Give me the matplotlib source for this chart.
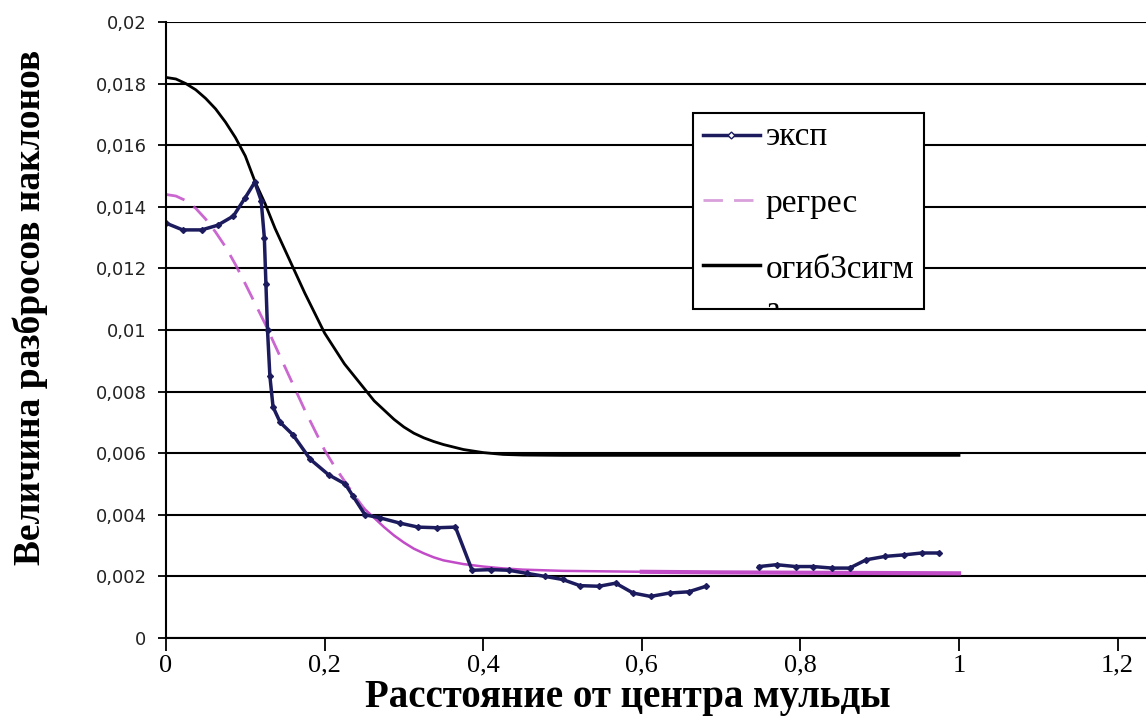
import numpy as np
import matplotlib
matplotlib.use('Agg')
import matplotlib.pyplot as plt
from matplotlib.patches import Rectangle
from matplotlib.transforms import Bbox, TransformedBbox

# --- data ---
# experimental scatter of slopes ("эксп"), gap between 0.68 and 0.75
exp_x = [0.000, 0.021, 0.045, 0.065, 0.085, 0.100, 0.112, 0.120, 0.124, 0.126,
         0.128, 0.131, 0.135, 0.144, 0.160, 0.182, 0.205, 0.226, 0.236, 0.251,
         0.270, 0.295, 0.318, 0.342, 0.365, 0.386, 0.410, 0.432, 0.455, 0.478,
         0.500, 0.522, 0.546, 0.567, 0.589, 0.611, 0.635, 0.659, 0.681, 0.715,
         0.748, 0.770, 0.794, 0.816, 0.840, 0.862, 0.883, 0.907, 0.931, 0.953,
         0.975]
exp_y = [0.01347, 0.01325, 0.01325, 0.01340, 0.01370, 0.01430, 0.01480, 0.01420, 0.01300, 0.01150,
         0.01000, 0.00850, 0.00750, 0.00700, 0.00660, 0.00580, 0.00530, 0.00500, 0.00460, 0.00400,
         0.00390, 0.00373, 0.00360, 0.00358, 0.00360, 0.00220, 0.00222, 0.00220, 0.00210, 0.00200,
         0.00190, 0.00170, 0.00168, 0.00178, 0.00146, 0.00135, 0.00146, 0.00150, 0.00168, np.nan,
         0.00232, 0.00238, 0.00232, 0.00232, 0.00227, 0.00227, 0.00254, 0.00265, 0.00270, 0.00276,
         0.00276]

# regression curve ("регрес")
reg_x = [0, 0.0125, 0.025, 0.0375, 0.05, 0.0625, 0.075, 0.0875, 0.1, 0.1125,
         0.125, 0.1375, 0.15, 0.1625, 0.175, 0.1875, 0.2, 0.2125, 0.225, 0.2375,
         0.25, 0.2625, 0.275, 0.2875, 0.3, 0.3125, 0.325, 0.3375, 0.35, 0.375,
         0.4, 0.425, 0.45, 0.5, 0.6, 0.7, 0.8, 0.9, 1.0]
reg_y = [0.0144, 0.01435, 0.0142, 0.01395, 0.0136, 0.01318, 0.0127, 0.01213, 0.0115, 0.01085,
         0.0102, 0.0095, 0.0088, 0.0081, 0.0074, 0.00675, 0.0061, 0.00557, 0.0051, 0.00463,
         0.0042, 0.0039, 0.0036, 0.00333, 0.0031, 0.0029, 0.00275, 0.00262, 0.00252, 0.0024,
         0.00232, 0.00226, 0.00222, 0.00218, 0.00215, 0.00213, 0.00212, 0.00211, 0.0021]

# 3-sigma envelope ("огиб3сигма")
env_x = [0, 0.0125, 0.025, 0.0375, 0.05, 0.0625, 0.075, 0.0875, 0.1, 0.1125,
         0.125, 0.1375, 0.15, 0.1625, 0.175, 0.1875, 0.2, 0.2125, 0.225, 0.2375,
         0.25, 0.2625, 0.275, 0.2875, 0.3, 0.3125, 0.325, 0.3375, 0.35, 0.375,
         0.4, 0.425, 0.45, 0.5, 0.6, 0.7, 0.8, 0.9, 1.0]
env_y = [0.0182, 0.01815, 0.0180, 0.0178, 0.01752, 0.01718, 0.01675, 0.01625, 0.01565, 0.0148,
         0.0141, 0.0133, 0.0126, 0.0119, 0.0112, 0.01055, 0.0099, 0.0094, 0.0089, 0.0085,
         0.0081, 0.0077, 0.0074, 0.0071, 0.00685, 0.00665, 0.0065, 0.00638, 0.00628, 0.00612,
         0.00602, 0.00596, 0.00594, 0.00593, 0.00593, 0.00593, 0.00593, 0.00593, 0.00593]

x_ticks = [0, 0.2, 0.4, 0.6, 0.8, 1.0, 1.2]
x_labels = ['0', '0,2', '0,4', '0,6', '0,8', '1', '1,2']
y_ticks = [0, 0.002, 0.004, 0.006, 0.008, 0.01, 0.012, 0.014, 0.016, 0.018, 0.02]
y_labels = ['0', '0,002', '0,004', '0,006', '0,008', '0,01', '0,012', '0,014', '0,016', '0,018', '0,02']

navy = '#1b1b5e'
pink = '#c24cc8'
serif = 'Liberation Serif'

fig = plt.figure(figsize=(11.46, 7.22), dpi=100)
ax = fig.add_axes([166/1146, 84/722, 980/1146, 616/722])

ax.set_xlim(0, 980/793)
ax.set_ylim(0, 0.02)

for s in ['top', 'right']:
    ax.spines[s].set_visible(False)
for s in ['left', 'bottom']:
    ax.spines[s].set_linewidth(1.5)

ax.set_yticks(y_ticks)
ax.set_yticklabels(y_labels, fontsize=13, color='#222222')
ax.set_xticks(x_ticks)
ax.set_xticklabels(x_labels, fontsize=19, family=serif)
ax.tick_params(axis='x', length=9, width=1.3, pad=3)
ax.tick_params(axis='y', length=6, width=1.3, pad=8)
ax.yaxis.grid(True, color='black', lw=1.5)
ax.set_axisbelow(True)

# curves
ax.plot(env_x, env_y, color='black', lw=2)

reg_x = np.array(reg_x)
reg_y = np.array(reg_y)
dash_part = reg_x <= 0.25
ax.plot(reg_x[dash_part], reg_y[dash_part], color=pink, lw=2, dashes=(7, 4), alpha=0.85)
ax.plot(reg_x[reg_x >= 0.25], reg_y[reg_x >= 0.25], color=pink, lw=1.8)
ax.plot(reg_x[reg_x >= 0.6], reg_y[reg_x >= 0.6], color=pink, lw=3)

ax.plot(exp_x, exp_y, color=navy, lw=2.5, marker='D', ms=3,
        mfc=navy, mec=navy, mew=1)

# legend drawn by hand, as in the original (last label wraps and is cut)
box = Rectangle((0.538, 0.534), 0.235, 0.318, transform=ax.transAxes,
                facecolor='white', edgecolor='black', lw=1.5, zorder=5)
ax.add_patch(box)
ax.plot([0.548, 0.606], [0.817, 0.817], transform=ax.transAxes, color=navy, lw=2.5, zorder=6)
ax.plot([0.577], [0.817], transform=ax.transAxes, marker='D', ms=3.5, mfc='white',
        mec=navy, zorder=7)
ax.plot([0.548, 0.606], [0.711, 0.711], transform=ax.transAxes, color='#d9a0dc', lw=2,
        dashes=(7, 4), zorder=6)
ax.plot([0.548, 0.606], [0.606, 0.606], transform=ax.transAxes, color='black', lw=2.5, zorder=6)
for yy, lab in [(0.800, 'эксп'), (0.692, 'регрес'), (0.584, 'огиб3сигм')]:
    ax.text(0.612, yy, lab, transform=ax.transAxes, fontsize=24, family=serif,
            va='baseline', zorder=7)
t = ax.text(0.612, 0.518, 'а', transform=ax.transAxes, fontsize=24, family=serif,
            va='baseline', zorder=7)
t.set_clip_box(TransformedBbox(Bbox([[0.538, 0.536], [0.773, 0.852]]), ax.transAxes))
t.set_clip_on(True)

fig.text(628/1146, 25/722, 'Расстояние от центра мульды', fontsize=28, family=serif,
         fontweight='bold', ha='center', va='center')
fig.text(30/1146, 1 - 307/722, 'Величина разбросов наклонов', fontsize=27, family=serif,
         fontweight='bold', ha='center', va='center', rotation=90)

fig.savefig('out.png', dpi=100, facecolor='white')
